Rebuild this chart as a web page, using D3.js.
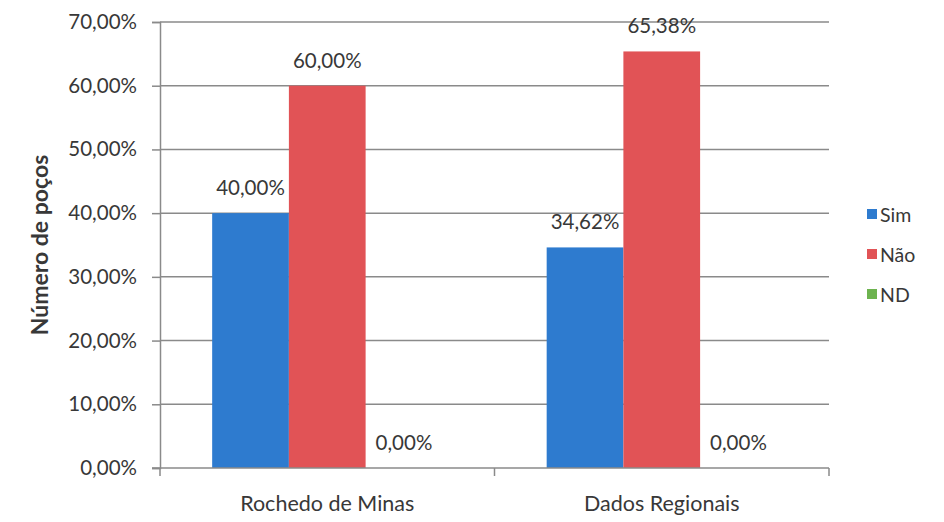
<!DOCTYPE html>
<html>
<head>
<meta charset="utf-8">
<script src="https://cdn.jsdelivr.net/npm/d3@7"></script>
<style>
  html, body { margin: 0; padding: 0; background: #fff; }
  svg { display: block; }
  text { font-family: Lato, "Open Sans", sans-serif; fill: #383838; }
</style>
</head>
<body>
<svg id="chart" width="944" height="522"></svg>
<script>
// Percentage of wells per answer, by location
const categories = ["Rochedo de Minas", "Dados Regionais"];
const seriesNames = ["Sim", "Não", "ND"];
const sim = [40.00, 34.62];
const nao = [60.00, 65.38];
const nd = [0.00, 0.00];
const yTicks = [0, 10, 20, 30, 40, 50, 60, 70];
const colors = ["#2e7bcf", "#e15356", "#6db34f"];

const seriesValues = [sim, nao, nd];
const rows = categories.map((c, i) => ({
  category: c,
  values: seriesNames.map((s, k) => ({ series: s, value: seriesValues[k][i], color: colors[k] }))
}));

const fmt = v => v.toFixed(2).replace(".", ",") + "%";

const svg = d3.select("#chart");
const plot = { left: 160, right: 829, top: 22, bottom: 468 };

const y = d3.scaleLinear().domain([0, 70]).range([plot.bottom, plot.top]);
const x0 = d3.scaleBand().domain(categories).range([plot.left, plot.right]).padding(0);
const x1 = d3.scaleBand().domain(seriesNames).range([0, x0.bandwidth()])
  .paddingInner(0).paddingOuter(0.68);

// horizontal gridlines
svg.append("g")
  .selectAll("line")
  .data(yTicks.filter(t => t > 0))
  .join("line")
  .attr("x1", plot.left).attr("x2", plot.right)
  .attr("y1", d => y(d)).attr("y2", d => y(d))
  .attr("stroke", "#8a8a8a").attr("stroke-width", 1.5);

// y axis
const yAxis = svg.append("g")
  .attr("transform", `translate(${plot.left},0)`)
  .call(d3.axisLeft(y).tickValues(yTicks).tickFormat(fmt).tickSize(8).tickPadding(15));
yAxis.select(".domain").attr("stroke", "#8a8a8a").attr("stroke-width", 1.5);
yAxis.selectAll(".tick line").attr("stroke", "#8a8a8a").attr("stroke-width", 1.5);
yAxis.selectAll(".tick text")
  .attr("font-family", "Lato, sans-serif").attr("font-size", 20.5).attr("fill", "#383838");

// bars
const groups = svg.append("g")
  .selectAll("g")
  .data(rows)
  .join("g")
  .attr("transform", d => `translate(${x0(d.category)},0)`);

groups.selectAll("rect")
  .data(d => d.values)
  .join("rect")
  .attr("x", d => x1(d.series))
  .attr("width", x1.bandwidth())
  .attr("y", d => y(d.value))
  .attr("height", d => y(0) - y(d.value))
  .attr("fill", d => d.color);

groups.selectAll("text")
  .data(d => d.values)
  .join("text")
  .attr("x", d => x1(d.series) + x1.bandwidth() / 2)
  .attr("y", d => y(d.value) - 18)
  .attr("text-anchor", "middle")
  .attr("font-size", 20.5)
  .text(d => fmt(d.value));

// x axis
const xAxisG = svg.append("g").attr("transform", `translate(0,${plot.bottom})`);
xAxisG.append("line")
  .attr("x1", plot.left - 8).attr("x2", plot.right)
  .attr("stroke", "#8a8a8a").attr("stroke-width", 1.5);
xAxisG.selectAll("line.tick")
  .data([plot.left, ...categories.map(c => x0(c) + x0.bandwidth())])
  .join("line")
  .attr("class", "tick")
  .attr("x1", d => d).attr("x2", d => d)
  .attr("y1", 0).attr("y2", 8)
  .attr("stroke", "#8a8a8a").attr("stroke-width", 1.5);
xAxisG.selectAll("text")
  .data(categories)
  .join("text")
  .attr("x", d => x0(d) + x0.bandwidth() / 2)
  .attr("y", 43)
  .attr("text-anchor", "middle")
  .attr("font-size", 21.5)
  .text(d => d);

// y axis title
svg.append("text")
  .attr("transform", `translate(48,${(plot.top + plot.bottom) / 2}) rotate(-90)`)
  .attr("text-anchor", "middle")
  .attr("font-size", 23)
  .attr("font-weight", "bold")
  .attr("fill", "#111")
  .text("Número de poços");

// legend
const legend = svg.append("g")
  .selectAll("g")
  .data(seriesNames)
  .join("g")
  .attr("transform", (d, i) => `translate(867,${214 + i * 40})`);
legend.append("rect")
  .attr("x", 0).attr("y", -5).attr("width", 10).attr("height", 10)
  .attr("fill", (d, i) => colors[i]);
legend.append("text")
  .attr("x", 13).attr("y", 0)
  .attr("dominant-baseline", "central")
  .attr("font-size", 19.5)
  .text(d => d);
</script>
</body>
</html>
